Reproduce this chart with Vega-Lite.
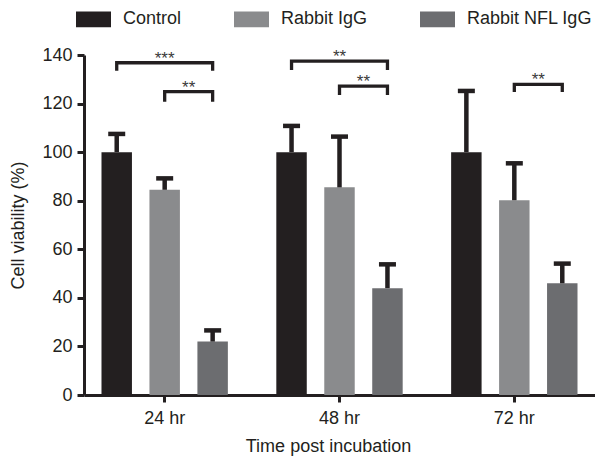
{
  "$schema": "https://vega.github.io/schema/vega-lite/v6.json",
  "width": 511,
  "height": 340,
  "autosize": "none",
  "padding": {"left": 84, "top": 55, "right": 0, "bottom": 63},
  "background": "white",
  "config": {
    "font": "Liberation Sans",
    "view": {"stroke": null},
    "axis": {
      "domainColor": "#231f20",
      "domainWidth": 3,
      "tickColor": "#231f20",
      "tickWidth": 3,
      "tickSize": 7,
      "grid": false,
      "labelFont": "Liberation Sans",
      "labelFontSize": 18,
      "labelColor": "#231f20",
      "titleFont": "Liberation Sans",
      "titleFontSize": 18,
      "titleFontWeight": "normal",
      "titleColor": "#231f20"
    },
    "legend": {
      "labelFont": "Liberation Sans",
      "labelFontSize": 18,
      "labelColor": "#231f20"
    }
  },
  "datasets": {
    "bars": [
      {"time": "24 hr", "group": "Control", "viability": 100, "upper": 107.5},
      {"time": "24 hr", "group": "Rabbit IgG", "viability": 84.5, "upper": 89.2},
      {"time": "24 hr", "group": "Rabbit NFL IgG", "viability": 22, "upper": 26.6},
      {"time": "48 hr", "group": "Control", "viability": 100, "upper": 110.8},
      {"time": "48 hr", "group": "Rabbit IgG", "viability": 85.5, "upper": 106.4},
      {"time": "48 hr", "group": "Rabbit NFL IgG", "viability": 44, "upper": 53.8},
      {"time": "72 hr", "group": "Control", "viability": 100, "upper": 125.2},
      {"time": "72 hr", "group": "Rabbit IgG", "viability": 80.2, "upper": 95.4},
      {"time": "72 hr", "group": "Rabbit NFL IgG", "viability": 46, "upper": 54.1}
    ],
    "brackets": [
      {"bracket": "b1", "time": "24 hr", "pos": "Control", "y": 133.5, "ord": 1},
      {"bracket": "b1", "time": "24 hr", "pos": "Control", "y": 136.8, "ord": 2},
      {"bracket": "b1", "time": "24 hr", "pos": "Rabbit NFL IgG", "y": 136.8, "ord": 3},
      {"bracket": "b1", "time": "24 hr", "pos": "Rabbit NFL IgG", "y": 133.5, "ord": 4},
      {"bracket": "b2", "time": "24 hr", "pos": "Rabbit IgG", "y": 120.8, "ord": 1},
      {"bracket": "b2", "time": "24 hr", "pos": "Rabbit IgG", "y": 124.9, "ord": 2},
      {"bracket": "b2", "time": "24 hr", "pos": "Rabbit NFL IgG", "y": 124.9, "ord": 3},
      {"bracket": "b2", "time": "24 hr", "pos": "Rabbit NFL IgG", "y": 120.8, "ord": 4},
      {"bracket": "b3", "time": "48 hr", "pos": "Control", "y": 133.8, "ord": 1},
      {"bracket": "b3", "time": "48 hr", "pos": "Control", "y": 137.5, "ord": 2},
      {"bracket": "b3", "time": "48 hr", "pos": "Rabbit NFL IgG", "y": 137.5, "ord": 3},
      {"bracket": "b3", "time": "48 hr", "pos": "Rabbit NFL IgG", "y": 133.8, "ord": 4},
      {"bracket": "b4", "time": "48 hr", "pos": "Rabbit IgG", "y": 123.5, "ord": 1},
      {"bracket": "b4", "time": "48 hr", "pos": "Rabbit IgG", "y": 127.2, "ord": 2},
      {"bracket": "b4", "time": "48 hr", "pos": "Rabbit NFL IgG", "y": 127.2, "ord": 3},
      {"bracket": "b4", "time": "48 hr", "pos": "Rabbit NFL IgG", "y": 123.5, "ord": 4},
      {"bracket": "b5", "time": "72 hr", "pos": "Rabbit IgG", "y": 124.8, "ord": 1},
      {"bracket": "b5", "time": "72 hr", "pos": "Rabbit IgG", "y": 127.9, "ord": 2},
      {"bracket": "b5", "time": "72 hr", "pos": "Rabbit NFL IgG", "y": 127.9, "ord": 3},
      {"bracket": "b5", "time": "72 hr", "pos": "Rabbit NFL IgG", "y": 124.8, "ord": 4}
    ],
    "stars": [
      {"time": "24 hr", "pos": "Rabbit IgG", "y": 136.8, "label": "***"},
      {"time": "24 hr", "pos": "Rabbit IgG|Rabbit NFL IgG", "y": 124.9, "label": "**"},
      {"time": "48 hr", "pos": "Rabbit IgG", "y": 137.5, "label": "**"},
      {"time": "48 hr", "pos": "Rabbit IgG|Rabbit NFL IgG", "y": 127.2, "label": "**"},
      {"time": "72 hr", "pos": "Rabbit IgG|Rabbit NFL IgG", "y": 127.9, "label": "**"}
    ]
  },
  "layer": [
    {
      "data": {"name": "bars"},
      "layer": [
        {
          "mark": {"type": "bar"},
          "encoding": {
            "x": {
              "field": "time", "type": "nominal",
              "scale": {"paddingInner": 0.177, "paddingOuter": 0.05},
              "axis": {"title": "Time post incubation", "labelAngle": 0, "labelPadding": 7, "titlePadding": 10, "titleX": 244}
            },
            "xOffset": {
              "field": "group", "type": "nominal",
              "scale": {"domain": ["Control", "Rabbit IgG", "Rabbit NFL IgG"], "paddingInner": 0.365, "paddingOuter": 0.1825}
            },
            "y": {
              "field": "viability", "type": "quantitative",
              "scale": {"domain": [0, 140], "nice": false},
              "axis": {"title": "Cell viability (%)", "values": [0, 20, 40, 60, 80, 100, 120, 140], "labelPadding": 5, "titlePadding": 14}
            },
            "color": {
              "field": "group", "type": "nominal",
              "scale": {"domain": ["Control", "Rabbit IgG", "Rabbit NFL IgG"], "range": ["#231f20", "#8a8b8d", "#6c6d70"]},
              "legend": {
                "title": null,
                "orient": "none",
                "direction": "horizontal",
                "legendX": -8,
                "legendY": -53.5,
                "padding": 0,
                "symbolType": "M-1,-0.45H1V0.45H-1Z",
                "symbolSize": 1225,
                "symbolStrokeWidth": 0,
                "symbolOpacity": 1,
                "labelOffset": 12,
                "columnPadding": 52
              }
            }
          }
        },
        {
          "mark": {"type": "rule", "color": "#231f20", "strokeWidth": 4.5},
          "encoding": {
            "x": {"field": "time", "type": "nominal"},
            "xOffset": {"field": "group", "type": "nominal"},
            "y": {"field": "viability", "type": "quantitative"},
            "y2": {"field": "upper"}
          }
        },
        {
          "mark": {"type": "tick", "color": "#231f20", "thickness": 4.5, "size": 17, "orient": "horizontal", "opacity": 1},
          "encoding": {
            "x": {"field": "time", "type": "nominal"},
            "xOffset": {"field": "group", "type": "nominal"},
            "y": {"field": "upper", "type": "quantitative"}
          }
        }
      ]
    },
    {
      "layer": [
        {
          "data": {"name": "brackets"},
          "mark": {"type": "line", "color": "#231f20", "strokeWidth": 3.3, "strokeCap": "butt", "strokeJoin": "miter"},
          "encoding": {
            "x": {"field": "time", "type": "nominal"},
            "xOffset": {
              "field": "pos", "type": "nominal",
              "scale": {"type": "point", "domain": ["Control", "Control|Rabbit IgG", "Rabbit IgG", "Rabbit IgG|Rabbit NFL IgG", "Rabbit NFL IgG"], "padding": 1}
            },
            "y": {"field": "y", "type": "quantitative"},
            "detail": {"field": "bracket"},
            "order": {"field": "ord"}
          }
        },
        {
          "data": {"name": "stars"},
          "mark": {"type": "text", "color": "#3a3a3a", "fontSize": 17, "baseline": "alphabetic", "align": "center", "dy": 1},
          "encoding": {
            "x": {"field": "time", "type": "nominal"},
            "xOffset": {"field": "pos", "type": "nominal"},
            "y": {"field": "y", "type": "quantitative"},
            "text": {"field": "label"}
          }
        }
      ]
    }
  ],
  "resolve": {"scale": {"xOffset": "independent"}}
}
